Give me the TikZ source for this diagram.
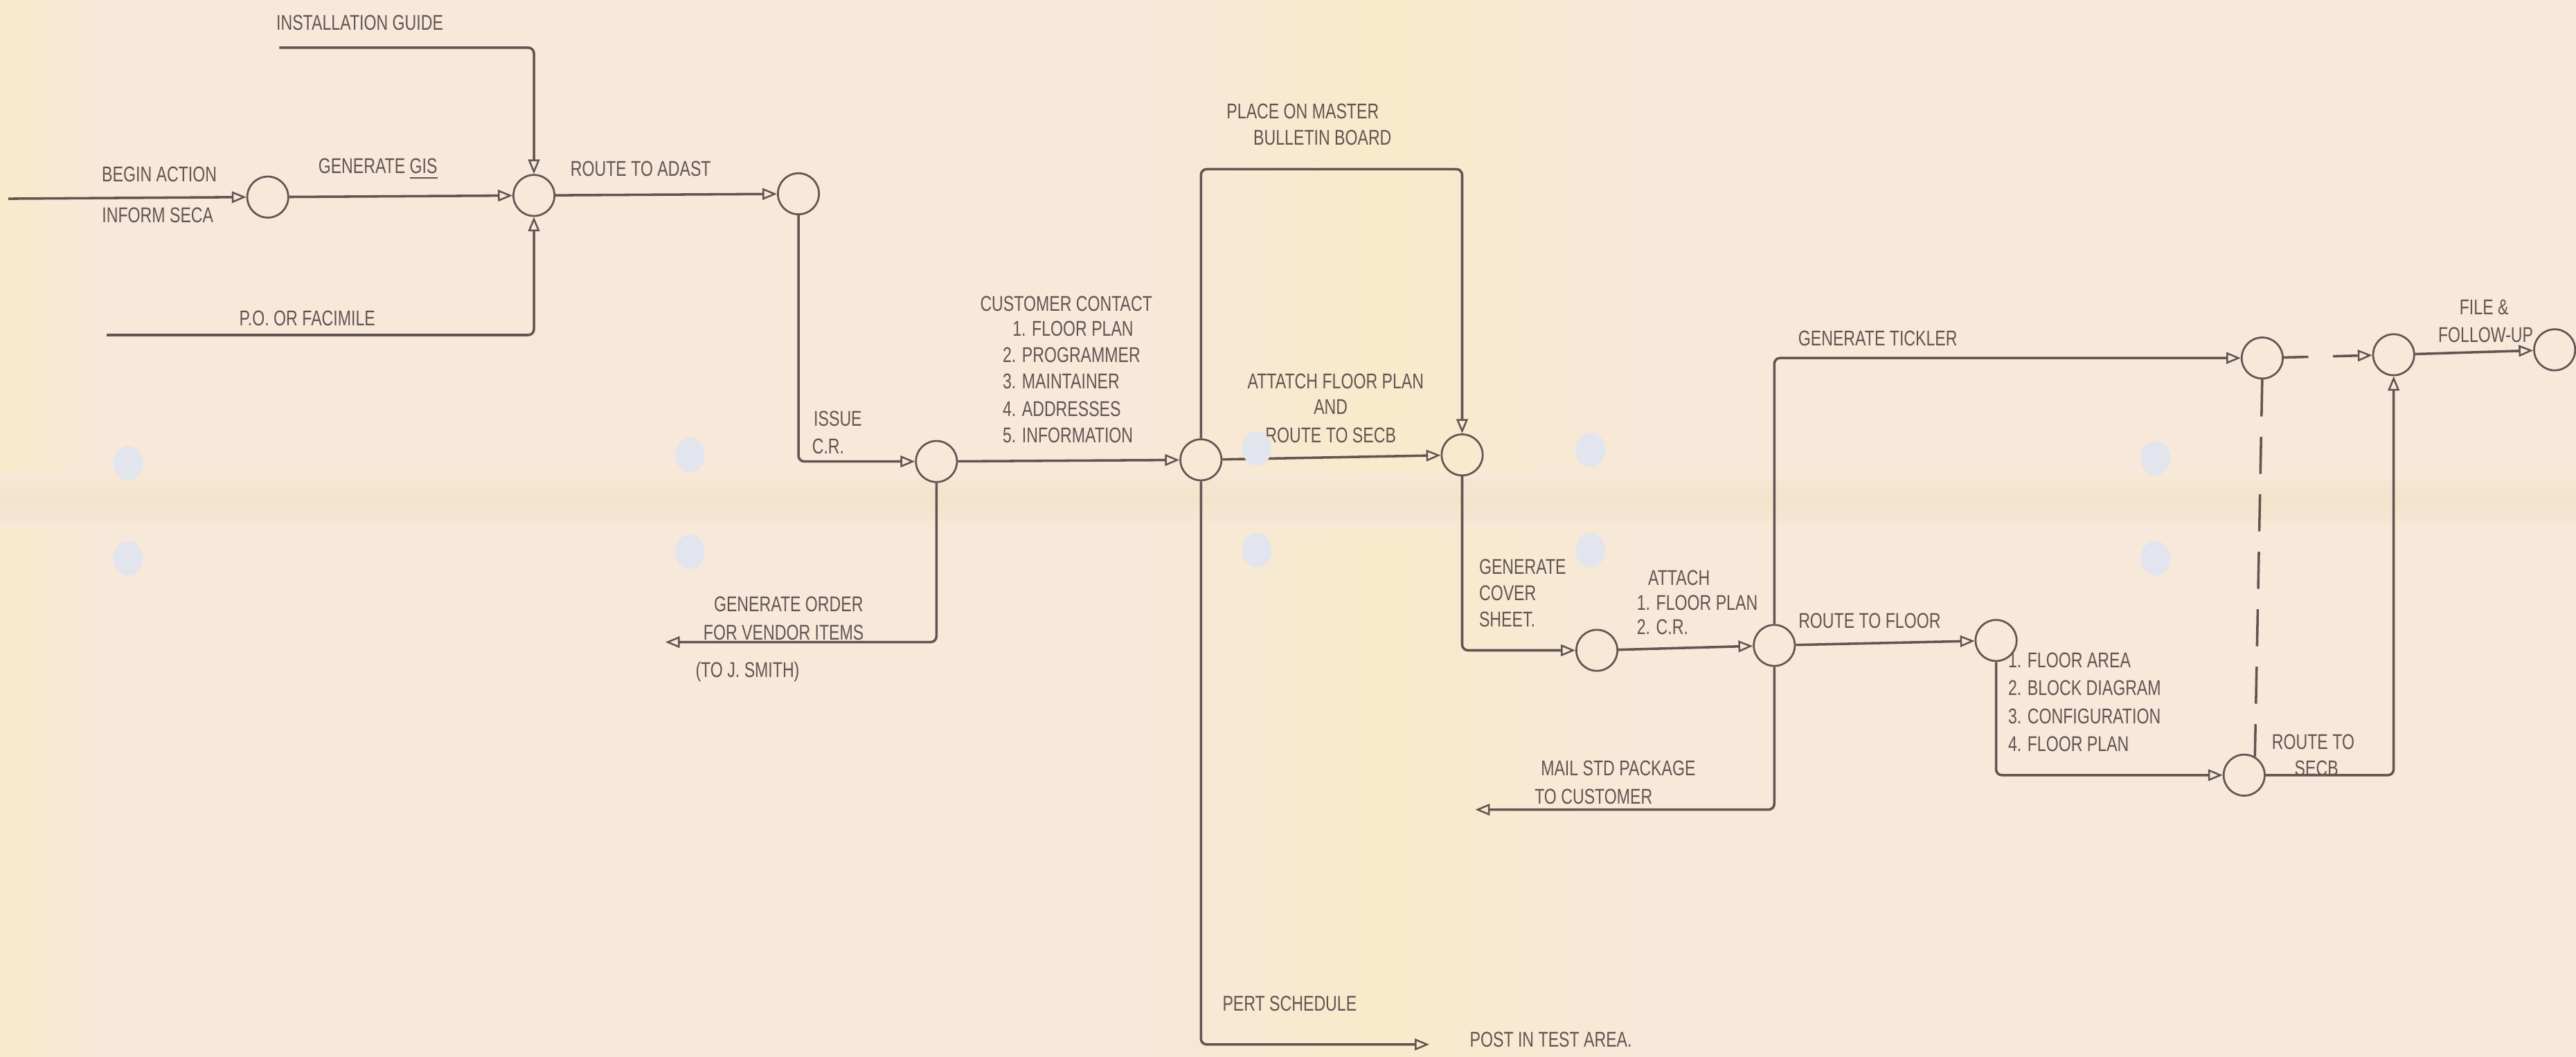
\documentclass[tikz,border=0pt]{standalone}
\usepackage{fontspec}
\newfontfamily\handfont[FakeStretch=0.75]{Liberation Sans}
\usetikzlibrary{arrows.meta,calc}
\definecolor{paper}{RGB}{247,232,217}
\definecolor{paperY}{RGB}{248,234,202}
\definecolor{crease}{RGB}{242,227,203}
\definecolor{ink}{RGB}{98,84,82}
\definecolor{hole}{RGB}{226,229,237}
\begin{document}
\begin{tikzpicture}[x=0.02cm,y=-0.02cm,
  ev/.style={circle,draw=ink,line width=0.65pt,minimum size=0.5cm,inner sep=0pt},
  flow/.style={draw=ink,line width=0.85pt,rounded corners=2pt},
  arr/.style={flow,-{Triangle[open,length=5pt,width=4pt,line width=0.6pt]}},
  dsh/.style={dash pattern=on 0.45cm off 0.25cm},
  lbl/.style={text=ink,font=\handfont\fontsize{7.4}{8}\selectfont,inner sep=0pt},
  lblw/.style={lbl,anchor=west},
  holeshape/.style={fill=hole,draw=none}
]
% paper
\useasboundingbox (0,0) rectangle (1568,643.6);
\fill[paper] (0,0) rectangle (1568,643.6);
\shade[left color=paperY,right color=paper] (0,0) rectangle (60,643.6);
\shade[left color=paper,right color=paperY] (700,0) rectangle (840,643.6);
\shade[left color=paperY,right color=paper] (840,0) rectangle (1000,643.6);
\shade[top color=paper,bottom color=crease] (0,288) rectangle (1568,305);
\shade[top color=crease,bottom color=paper] (0,305) rectangle (1568,322);

% events
\node[ev] (n1) at (163,120) {};
\node[ev] (n2) at (325,119) {};
\node[ev] (n3) at (486,118) {};
\node[ev] (n4) at (570,281) {};
\node[ev] (n5) at (731,280) {};
\node[ev] (n6) at (890,277) {};
\node[ev] (n7) at (972,396) {};
\node[ev] (n8) at (1080,393) {};
\node[ev] (n9) at (1377,218) {};
\node[ev] (n10) at (1215,390) {};
\node[ev] (n11) at (1366,472) {};
\node[ev] (n12) at (1457,216) {};
\node[ev] (n13) at (1555,213) {};

% free ends
\coordinate (in0) at (5,121);
\coordinate (ig) at (170,29);
\coordinate (po) at (65,204);
\coordinate (go) at (405,391);
\coordinate (bb) at (810,103);
\coordinate (pert) at (870,636);
\coordinate (mail) at (898,493);

% connectors
\draw[arr] (in0) -- (n1.west);
\draw[arr] (n1) -- (n2);
\draw[arr] (ig) -| (n2.north);
\draw[arr] (po) -| (n2.south);
\draw[arr] (n2) -- (n3);
\draw[arr] (n3.south) |- (n4.west);
\draw[arr] (n4) -- (n5);
\draw[arr] (n4.south) |- (go);
\draw[arr] (n5.north) |- (bb) -| (n6.north);
\draw[arr] (n5) -- (n6);
\draw[arr] (n5.south) |- (pert);
\draw[arr] (n6.south) |- (n7.west);
\draw[arr] (n7) -- (n8);
\draw[arr] (n8.north) |- (n9.west);
\draw[arr] (n8.south) |- (mail);
\draw[arr] (n8) -- (n10);
\draw[arr] (n10.south) |- (n11.west);
\draw[flow,dsh] (n9.south) -- (n11.60);
\draw[arr,dash pattern=on 0.3cm off 0.3cm] (n9) -- (n12);
\draw[arr] (n11.east) -| (n12.south);
\draw[arr] (n12) -- (n13);

% labels
\node[lbl] (l1) at (97,106) {BEGIN ACTION};
\node[lbl] (l2) at (96,131) {INFORM SECA};
\node[lbl] (l3) at (230,103) {GENERATE \underline{GIS}};
\node[lbl] (l4) at (219,14) {INSTALLATION GUIDE};
\node[lbl] (l5) at (187,194) {P.O. OR FACIMILE};
\node[lbl] (l6) at (390,103) {ROUTE TO ADAST};
\node[lblw] (l7) at (495,255) {ISSUE};
\node[lblw] (l8) at (494,272) {C.R.};
\node[lbl] (l9) at (649,185) {CUSTOMER CONTACT};
\node[lblw] (l10) at (616,200) {1. FLOOR PLAN};
\node[lblw] (l11) at (610,216) {2. PROGRAMMER};
\node[lblw] (l12) at (610,232) {3. MAINTAINER};
\node[lblw] (l13) at (610,249) {4. ADDRESSES};
\node[lblw] (l14) at (610,265) {5. INFORMATION};
\node[lbl] (l15) at (480,368) {GENERATE ORDER};
\node[lbl] (l16) at (477,385) {FOR VENDOR ITEMS};
\node[lbl] (l17) at (455,409) {(TO J. SMITH)};
\node[lbl] (l18) at (793,68) {PLACE ON MASTER};
\node[lbl] (l19) at (805,84) {BULLETIN BOARD};
\node[lbl] (l20) at (813,232) {ATTATCH FLOOR PLAN};
\node[lbl] (l21) at (810,248) {AND};
\node[lbl] (l22) at (810,265) {ROUTE TO SECB};
\node[lbl] (l23) at (785,611) {PERT SCHEDULE};
\node[lbl] (l24) at (944,633) {POST IN TEST AREA.};
\node[lblw] (l25) at (900,345) {GENERATE};
\node[lblw] (l26) at (900,361) {COVER};
\node[lblw] (l27) at (900,377) {SHEET.};
\node[lbl] (l28) at (1022,352) {ATTACH};
\node[lblw] (l29) at (996,367) {1. FLOOR PLAN};
\node[lblw] (l30) at (996,382) {2. C.R.};
\node[lbl] (l31) at (1138,378) {ROUTE TO FLOOR};
\node[lbl] (l32) at (985,468) {MAIL STD PACKAGE};
\node[lbl] (l33) at (970,485) {TO CUSTOMER};
\node[lbl] (l34) at (1143,206) {GENERATE TICKLER};
\node[lblw] (l35) at (1222,402) {1. FLOOR AREA};
\node[lblw] (l36) at (1222,419) {2. BLOCK DIAGRAM};
\node[lblw] (l37) at (1222,436) {3. CONFIGURATION};
\node[lblw] (l38) at (1222,453) {4. FLOOR PLAN};
\node[lbl] (l39) at (1408,452) {ROUTE TO};
\node[lbl] (l40) at (1410,468) {SECB};
\node[lbl] (l41) at (1512,187) {FILE \&};
\node[lbl] (l42) at (1513,204) {FOLLOW-UP};

% punch holes
\foreach \hx/\hy in {78/282,78/340,420/277,420/336,765/273,765/335,968/274,968/335,1312/279,1312/340}
  \fill[holeshape] (\hx,\hy) ellipse [x radius=9, y radius=10.5];
\end{tikzpicture}
\end{document}
